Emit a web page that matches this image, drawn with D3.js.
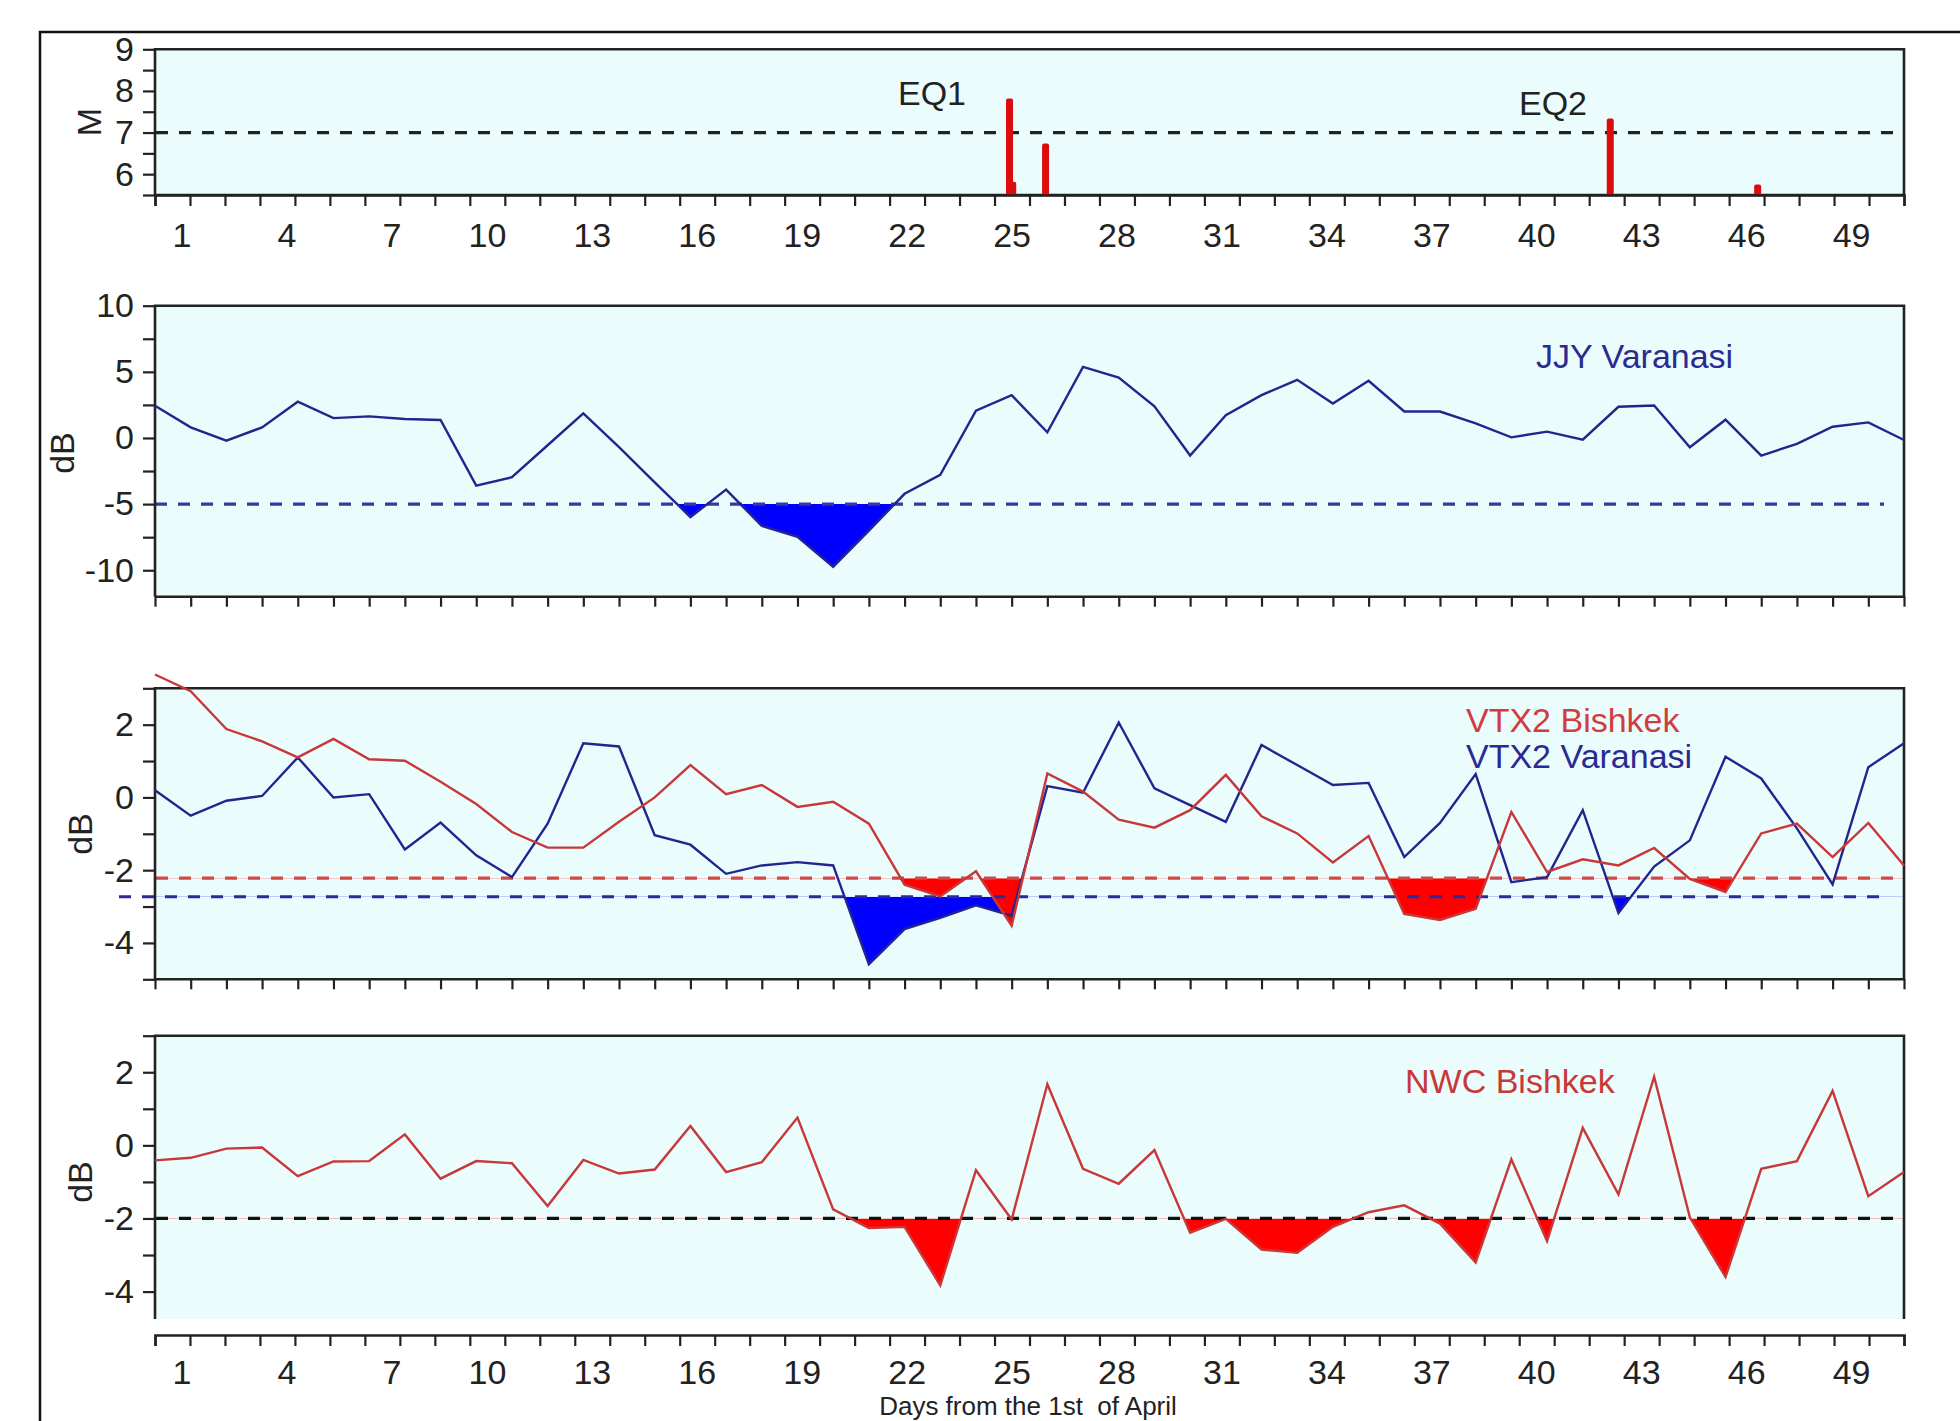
<!DOCTYPE html>
<html>
<head>
<meta charset="utf-8">
<script src="https://cdn.jsdelivr.net/npm/d3@7"></script>
<style>
  body{margin:0;background:#fff}
  svg{display:block}
  text{font-family:'Liberation Sans',Arial,sans-serif}
</style>
</head>
<body>
<svg id="fig" width="1960" height="1421"></svg>
<script>
// days from the 1st of April
var days = d3.range(1, 51);
var dayLabels = [1,4,7,10,13,16,19,22,25,28,31,34,37,40,43,46,49];

// earthquakes (day, magnitude)
var eqDay = [24.94, 25.03, 25.95, 41.77, 45.9];
var eqMag = [7.82, 5.82, 6.74, 7.34, 5.75];
var eqNames = ["EQ1", "EQ2"];

var jjyVaranasi = [2.44,0.8,-0.2,0.8,2.74,1.5,1.63,1.43,1.36,-3.6,
  -2.97,-0.55,1.86,-0.7,-3.35,-5.98,-3.9,-6.65,-7.48,-9.75,
  -7.0,-4.22,-2.79,2.06,3.24,0.43,5.38,4.57,2.39,-1.33,
  1.73,3.24,4.4,2.61,4.32,2.0,2.0,1.1,0.05,0.48,
  -0.13,2.36,2.46,-0.7,1.38,-1.33,-0.45,0.85,1.18,-0.15];

var vtxBishkek = [3.38,2.92,1.88,1.54,1.1,1.61,1.05,1.01,0.43,-0.18,
  -0.95,-1.38,-1.38,-0.67,0.0,0.89,0.09,0.34,-0.26,-0.12,
  -0.72,-2.4,-2.72,-2.03,-3.53,0.66,0.16,-0.61,-0.83,-0.35,
  0.62,-0.52,-0.99,-1.79,-1.06,-3.2,-3.37,-3.06,-0.4,-2.05,
  -1.7,-1.87,-1.39,-2.24,-2.6,-0.99,-0.72,-1.64,-0.7,-1.87];

var vtxVaranasi = [0.2,-0.5,-0.09,0.04,1.1,0.0,0.09,-1.43,-0.69,-1.59,
  -2.19,-0.72,1.49,1.4,-1.04,-1.3,-2.1,-1.87,-1.78,-1.87,
  -4.59,-3.62,-3.31,-2.97,-3.25,0.31,0.13,2.06,0.25,-0.21,
  -0.67,1.44,0.89,0.34,0.4,-1.64,-0.7,0.64,-2.33,-2.19,
  -0.35,-3.18,-1.9,-1.18,1.12,0.52,-0.85,-2.39,0.83,1.49];

var nwcBishkek = [-0.41,-0.34,-0.09,-0.06,-0.84,-0.44,-0.43,0.3,-0.91,-0.43,
  -0.49,-1.66,-0.4,-0.77,-0.66,0.53,-0.73,-0.46,0.76,-1.75,
  -2.26,-2.23,-3.83,-0.68,-2.03,1.67,-0.64,-1.05,-0.13,-2.39,
  -2.01,-2.85,-2.94,-2.23,-1.83,-1.64,-2.14,-3.2,-0.38,-2.62,
  0.48,-1.34,1.88,-1.97,-3.6,-0.64,-0.43,1.49,-1.39,-0.73];

// thresholds (dashed lines)
var thrM = 7, thrJJY = -5, thrVTXB = -2.22, thrVTXV = -2.73, thrNWC = -2;

var bg = '#ebfcfc', frame = '#222';
var blueLine = '#24248f', redLine = '#c8383a';
var fontsize = 34;
var left = 155, right = 1904;

var svg = d3.select('#fig');

svg.append('rect')
  .attr('x', 40).attr('y', 32)
  .attr('width', 2000).attr('height', 2000)
  .attr('fill', 'none').attr('stroke', '#111').attr('stroke-width', 2.5);

var x = d3.scaleLinear().domain([1, 50]).range([left, right]);
var xTick = d3.scaleLinear().domain([0, 50]).range([left, right]);

function makePanel(top, bottom, domain, ticks, majors, drawBottom) {
  var y = d3.scaleLinear().domain(domain).range([bottom, top]);
  var g = svg.append('g');
  g.append('rect')
    .attr('x', left).attr('y', top)
    .attr('width', right - left).attr('height', bottom - top)
    .attr('fill', bg);
  g.layer = g.append('g');
  var yAxis = d3.axisLeft(y)
    .tickValues(ticks)
    .tickSize(12)
    .tickPadding(9)
    .tickFormat(d => majors.includes(d) ? d : '');
  var yg = g.append('g')
    .attr('transform', `translate(${left},0)`)
    .call(yAxis);
  yg.select('.domain').remove();
  yg.selectAll('line').attr('stroke', frame).attr('stroke-width', 2.2);
  yg.selectAll('text').style('font-size', fontsize).attr('fill', '#222');
  var pts = [[left, bottom], [left, top], [right, top], [right, bottom]];
  if (drawBottom) pts.push([left, bottom]);
  g.append('path')
    .attr('d', d3.line()(pts))
    .attr('fill', 'none').attr('stroke', frame).attr('stroke-width', 2.6);
  return {g: g, y: y};
}

function dashed(p, v, color, x0, x1) {
  p.g.layer.append('line')
    .attr('x1', x0).attr('x2', x1)
    .attr('y1', p.y(v)).attr('y2', p.y(v))
    .attr('stroke', color).attr('stroke-width', 3.2)
    .attr('stroke-dasharray', '12,11');
}

var clipN = 0;
function underFill(p, vals, thr, color, bottom) {
  var id = 'clip' + (clipN++);
  p.g.layer.append('clipPath').attr('id', id)
    .append('rect')
    .attr('x', left).attr('width', right - left)
    .attr('y', p.y(thr)).attr('height', bottom - p.y(thr));
  p.g.layer.append('path')
    .datum(vals)
    .attr('clip-path', `url(#${id})`)
    .attr('fill', color)
    .attr('d', d3.area().x((d, i) => x(days[i])).y0(p.y(thr)).y1(d => p.y(d)));
}

function series(p, vals, color) {
  p.g.append('path')
    .datum(vals)
    .attr('fill', 'none')
    .attr('stroke', color)
    .attr('stroke-width', 2.4)
    .attr('stroke-linejoin', 'miter')
    .attr('d', d3.line().x((d, i) => x(days[i])).y(d => p.y(d)));
}

function dataTicks(bottom) {
  var ax = d3.axisBottom(x).tickValues(days).tickSize(10).tickFormat('');
  var tg = svg.append('g').attr('transform', `translate(0,${bottom})`).call(ax);
  tg.select('.domain').remove();
  tg.selectAll('line').attr('stroke', frame).attr('stroke-width', 2.2);
}

function dayAxis(yPos, pad) {
  var ax = d3.axisBottom(xTick)
    .tickValues(d3.range(0, 51))
    .tickSize(11)
    .tickPadding(pad)
    .tickFormat(d => dayLabels.includes(d) ? d : '');
  var ag = svg.append('g').attr('transform', `translate(0,${yPos})`).call(ax);
  ag.select('.domain').attr('stroke', frame).attr('stroke-width', 2.6);
  ag.selectAll('line').attr('stroke', frame).attr('stroke-width', 2.2);
  ag.selectAll('text')
    .style('font-size', fontsize)
    .attr('fill', '#222')
    .attr('text-anchor', 'end')
    .attr('x', 1);
}

function yTitle(txt, cx, cy) {
  svg.append('text')
    .attr('transform', `translate(${cx},${cy}) rotate(-90)`)
    .attr('text-anchor', 'middle')
    .attr('dy', '0.36em')
    .style('font-size', fontsize)
    .attr('fill', '#222')
    .text(txt);
}

function label(p, txt, lx, ly, color) {
  p.g.append('text')
    .attr('x', lx).attr('y', ly)
    .style('font-size', fontsize)
    .attr('fill', color)
    .text(txt);
}

// ---- panel 1: magnitudes
var p1 = makePanel(49.3, 195, [5.5, 9], d3.range(5.5, 9.01, 0.5), [6, 7, 8, 9], true);
dashed(p1, thrM, '#222', 156, 1896);
p1.g.selectAll('.eq')
  .data(eqDay)
  .enter()
  .append('rect')
  .attr('class', 'eq')
  .attr('x', d => x(d) - 3.5)
  .attr('width', 7)
  .attr('y', (d, i) => p1.y(eqMag[i]))
  .attr('height', (d, i) => p1.y(5.5) - p1.y(eqMag[i]))
  .attr('rx', 2)
  .attr('fill', '#dc0c0c');
label(p1, eqNames[0], 898, 105, '#222');
label(p1, eqNames[1], 1519, 115, '#222');
dayAxis(195, 17);
yTitle('M', 89, 122);

// ---- panel 2: JJY Varanasi
var p2 = makePanel(305.7, 596.7, [-12, 10], d3.range(-10, 10.01, 2.5), [-10, -5, 0, 5, 10], true);
underFill(p2, jjyVaranasi, thrJJY, '#0000ff', 596.7);
dashed(p2, thrJJY, '#3838a0', 155, 1884);
series(p2, jjyVaranasi, blueLine);
label(p2, 'JJY Varanasi', 1536, 368, '#2a2a92');
dataTicks(596.7);
yTitle('dB', 62, 453);

// ---- panel 3: VTX2 Bishkek / Varanasi
var p3 = makePanel(688.3, 979.3, [-5, 3], d3.range(-5, 3.01, 1), [-4, -2, 0, 2], true);
underFill(p3, vtxVaranasi, thrVTXV, '#0000ff', 979.3);
underFill(p3, vtxBishkek, thrVTXB, '#ff0000', 979.3);
dashed(p3, thrVTXB, '#d04848', 156, 1896);
dashed(p3, thrVTXV, '#2a2a9a', 119, 1884);
series(p3, vtxVaranasi, blueLine);
series(p3, vtxBishkek, redLine);
label(p3, 'VTX2 Bishkek', 1466, 732, '#d23c3c');
label(p3, 'VTX2 Varanasi', 1466, 768, '#2a2a92');
dataTicks(979.3);
yTitle('dB', 80, 834);

// ---- panel 4: NWC Bishkek
var p4 = makePanel(1035.7, 1319, [-4.75, 3], d3.range(-4, 3.01, 1), [-4, -2, 0, 2], false);
underFill(p4, nwcBishkek, thrNWC, '#ff0000', 1319);
dashed(p4, thrNWC, '#111', 156, 1896);
series(p4, nwcBishkek, redLine);
label(p4, 'NWC Bishkek', 1405, 1093, '#c83838');
dayAxis(1335, 14);
yTitle('dB', 80, 1182);

svg.append('text')
  .attr('x', 1028).attr('y', 1415)
  .attr('text-anchor', 'middle')
  .style('font-size', 26)
  .attr('fill', '#222')
  .attr('xml:space', 'preserve')
  .text('Days from the 1st  of April');
</script>
</body>
</html>
